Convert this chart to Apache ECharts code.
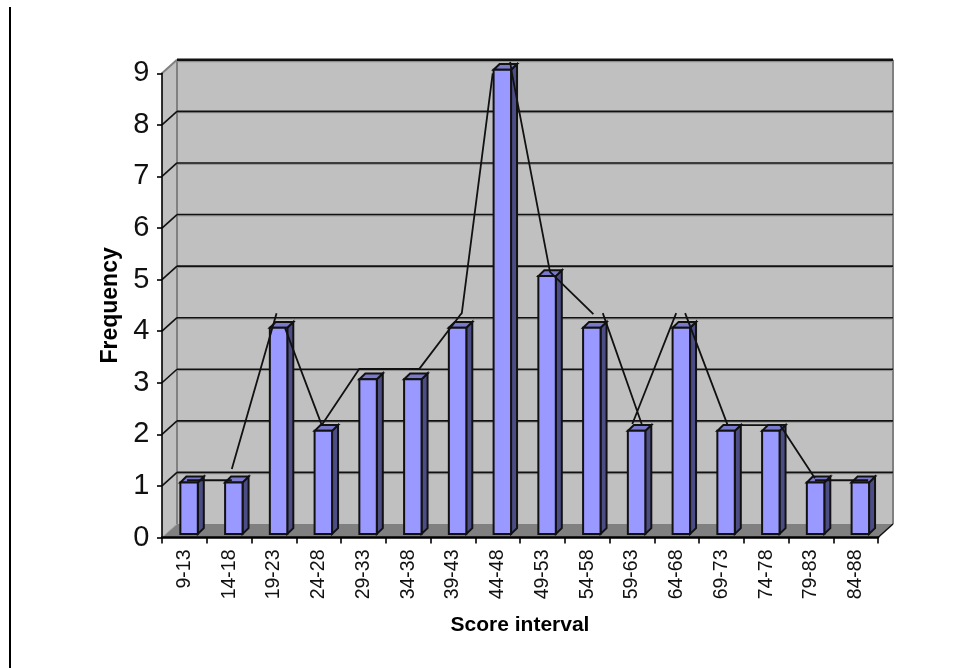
<!DOCTYPE html>
<html><head><meta charset="utf-8">
<style>html,body{margin:0;padding:0;background:#fff}#c{width:965px;height:668px}</style>
<script src="https://cdn.jsdelivr.net/npm/echarts@6/dist/echarts.min.js"></script>
</head><body><div id="c"></div>
<script>
const categories = ['9-13','14-18','19-23','24-28','29-33','34-38','39-43','44-48','49-53','54-58','59-63','64-68','69-73','74-78','79-83','84-88'];
const frequency = [1,1,4,2,3,3,4,9,5,4,2,4,2,2,1,1];
const yTicks = [1,2,3,4,5,6,7,8,9];
// The frequency polygon as it appears in the picture, read in axis units (null = broken line).
const polygonX = [0.56,1.56,null,1.56,2.56,null,2.75,3.57,4.41,5.75,6.66,6.70,7.39,null,7.78,7.82,8.67,9.64,null,9.85,10.72,null,10.51,11.49,null,11.69,12.64,13.81,14.59,null,14.59,15.78];
const polygonY = [1.11,1.11,null,1.33,4.35,null,4.06,2.18,3.27,3.27,4.31,4.35,9.0,null,9.22,9.0,5.15,4.33,null,4.35,2.2,null,2.2,4.35,null,4.35,2.18,2.18,1.15,null,1.11,1.11];

const DX = 15, DY = 13.5;
const chart = echarts.init(document.getElementById('c'), null, {renderer:'canvas'});
const FONT = '"Liberation Sans", Arial, sans-serif';

function wallsItem(params, api){
  const c = params.coordSys, x0=c.x, x1=c.x+c.width, yb=c.y+c.height, yt=c.y;
  const ln={stroke:'#808080',lineWidth:2,fill:null};
  return {type:'group',children:[
    {type:'polygon',shape:{points:[[x0+DX,yt-DY],[x1+DX,yt-DY],[x1+DX,yb-DY],[x0+DX,yb-DY]]},style:{fill:'#c0c0c0'}},
    {type:'polygon',shape:{points:[[x0,yt],[x0+DX,yt-DY],[x0+DX,yb-DY],[x0,yb]]},style:{fill:'#c0c0c0'}},
    {type:'polygon',shape:{points:[[x0,yb],[x1,yb],[x1+DX,yb-DY],[x0+DX,yb-DY]]},style:{fill:'#808080'}},
    {type:'line',shape:{x1:x0+DX,y1:yt-DY,x2:x0+DX,y2:yb-DY},style:ln},
    {type:'line',shape:{x1:x1+DX,y1:yt-DY,x2:x1+DX,y2:yb-DY},style:ln},
    {type:'line',shape:{x1:x0,y1:yt,x2:x0+DX,y2:yt-DY},style:ln},
    {type:'line',shape:{x1:x0,y1:yb,x2:x0+DX,y2:yb-DY},style:{stroke:'#a0a0a0',lineWidth:1}},
    {type:'line',shape:{x1:x1,y1:yb,x2:x1+DX,y2:yb-DY},style:{stroke:'#111',lineWidth:1.5}},
    {type:'line',shape:{x1:x0+DX,y1:yt-DY+1.8,x2:x1+DX,y2:yt-DY+1.8},style:{stroke:'#909090',lineWidth:1.5}}
  ]};
}
function gridItem(params, api){
  const c = params.coordSys, y = api.coord([0, api.value(1)])[1];
  const x0=c.x, x1=c.x+c.width;
  const top = api.value(1)===yTicks[yTicks.length-1];
  const kids=[
    {type:'line',shape:{x1:x0+DX,y1:y-DY+1.3,x2:x1+DX,y2:y-DY+1.3},style:{stroke:'#8c8c8c',lineWidth:1}},
    {type:'line',shape:{x1:x0+DX,y1:y-DY,x2:x1+DX,y2:y-DY},style:{stroke:'#111',lineWidth:top?2.5:1.6}}
  ];
  if(!top) kids.push({type:'line',shape:{x1:x0,y1:y,x2:x0+DX,y2:y-DY},style:{stroke:'#111',lineWidth:1.6}});
  return {type:'group',children:kids};
}
function barItem(params, api){
  const i=api.value(0), v=api.value(1);
  const band=api.size([1,0])[0];
  const p=api.coord([i,v]), b=api.coord([i,0]);
  const w=band*0.39, cx=p[0]+4.7, l=cx-w/2, r=cx+w/2, t=p[1]-3.5, bot=b[1]-3.5, sx=6, sy=5.8;
  const st=f=>({fill:f,stroke:'#111',lineWidth:2,lineJoin:'miter'});
  return {type:'group',children:[
    {type:'polygon',shape:{points:[[r,t],[r+sx,t-sy],[r+sx,bot-sy],[r,bot]]},style:st('#4d4d85')},
    {type:'polygon',shape:{points:[[l,t],[l+sx,t-sy],[r+sx,t-sy],[r,t]]},style:st('#7a7acc')},
    {type:'rect',shape:{x:l,y:t,width:w,height:bot-t},style:st('#9999ff')}
  ]};
}
chart.setOption({
  animation:false,
  backgroundColor:'#fff',
  graphic:[{type:'rect',shape:{x:9,y:7,width:2,height:661},style:{fill:'#000'}}],
  grid:{left:162,top:73.3,width:716,height:464.2,containLabel:false},
  xAxis:[
    {type:'category',data:categories,name:'Score interval',nameLocation:'middle',nameGap:77,
     nameTextStyle:{fontFamily:FONT,fontWeight:'bold',fontSize:21,color:'#000'},
     axisLine:{lineStyle:{color:'#000',width:2.5}},axisTick:{show:true,length:6,lineStyle:{color:'#000',width:1.6},alignWithLabel:false},
     axisLabel:{rotate:90,fontFamily:FONT,fontSize:19.5,color:'#111',margin:12,interval:0},splitLine:{show:false},z:2},
    {type:'value',min:0,max:16,show:false}
  ],
  yAxis:[{type:'value',min:0,max:9,interval:1,name:'Frequency',nameLocation:'middle',nameGap:40,nameRotate:90,
     nameTextStyle:{fontFamily:FONT,fontWeight:'bold',fontSize:23,color:'#000',padding:[0,0,0,0]},
     axisLine:{show:true,lineStyle:{color:'#000',width:1.6}},axisTick:{show:true,length:5,lineStyle:{color:'#000',width:1.6}},
     axisLabel:{fontFamily:FONT,fontSize:29,color:'#111',margin:12.5},splitLine:{show:false},z:2}],
  series:[
    {type:'custom',name:'walls',z:1,silent:true,clip:false,renderItem:wallsItem,data:[[0,0]],xAxisIndex:0,yAxisIndex:0},
    {type:'custom',name:'gridlines',z:1,silent:true,clip:false,renderItem:gridItem,data:yTicks.map(v=>[0,v]),xAxisIndex:0,yAxisIndex:0},
    {type:'custom',name:'Frequency',z:3,clip:false,renderItem:barItem,data:frequency.map((v,i)=>[i,v]),encode:{x:0,y:1},xAxisIndex:0,yAxisIndex:0},
    {type:'line',name:'Polygon',z:4,xAxisIndex:1,yAxisIndex:0,clip:false,showSymbol:false,symbol:'none',smooth:false,connectNulls:false,
     lineStyle:{color:'#111',width:1.8},data:polygonX.map((x,i)=>x===null?[null,'-']:[x,polygonY[i]])}
  ]
});
</script></body></html>
